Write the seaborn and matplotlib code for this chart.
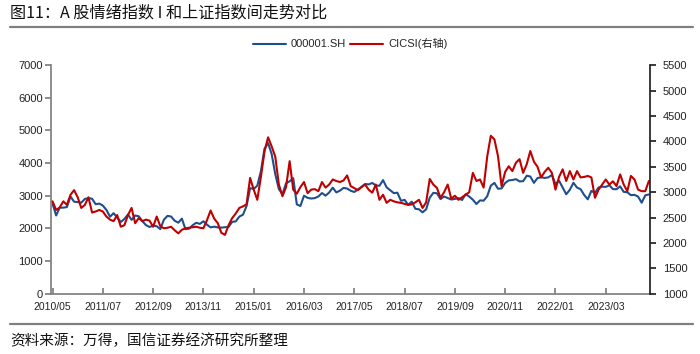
import numpy as np
import pandas as pd
import seaborn as sns
import matplotlib.pyplot as plt
from matplotlib.lines import Line2D

# 月度数据：2010/05 - 2024/03
months = pd.date_range("2010-05-01", periods=167, freq="MS")

# 上证指数（左轴）
sh_index = [
    2760, 2398, 2638, 2638, 2656, 2979, 2820, 2808,
    2790, 2905, 2928, 2911, 2743, 2762, 2701, 2567, 2359, 2469, 2333, 2199,
    2292, 2428, 2263, 2397, 2373, 2225, 2103, 2047, 2086, 2069, 1980, 2269,
    2385, 2366, 2237, 2178, 2301, 1979, 1994, 2098, 2175, 2141, 2220, 2116,
    2033, 2056, 2033, 2026, 2039, 2048, 2202, 2217, 2364, 2420, 2683, 3235,
    3210, 3310, 3748, 4442, 4612, 4277, 3664, 3206, 3053, 3383, 3445, 3539,
    2738, 2688, 3004, 2938, 2917, 2930, 2979, 3085, 3005, 3100, 3250, 3104,
    3159, 3242, 3223, 3155, 3117, 3192, 3273, 3361, 3349, 3393, 3317, 3307,
    3481, 3259, 3169, 3082, 3095, 2847, 2876, 2725, 2821, 2603, 2588, 2494,
    2585, 2941, 3091, 3078, 2899, 2979, 2933, 2886, 2905, 2929, 2871, 3050,
    2977, 2880, 2750, 2860, 2852, 2985, 3310, 3396, 3218, 3225, 3392, 3473,
    3483, 3509, 3442, 3447, 3615, 3591, 3397, 3544, 3568, 3547, 3564, 3640,
    3361, 3462, 3252, 3047, 3186, 3399, 3253, 3202, 3024, 2893, 3151, 3089,
    3255, 3280, 3273, 3323, 3205, 3202, 3291, 3120, 3110, 3019, 3030, 2975,
    2789, 3015, 3041,
]

# CICSI 情绪指数（右轴）
cicsi = [
    2820, 2650, 2700, 2820, 2750, 2950, 3040, 2900, 2690, 2750,
    2900, 2600, 2620, 2650, 2620, 2520, 2460, 2430, 2550, 2320,
    2350, 2550, 2690, 2390, 2490, 2430, 2460, 2440, 2320, 2520,
    2330, 2290, 2300, 2320, 2250, 2190, 2260, 2290, 2300, 2310,
    2320, 2300, 2290, 2450, 2640, 2480, 2390, 2200, 2160, 2350,
    2490, 2580, 2690, 2720, 2760, 3280, 3050, 2850, 3300, 3800,
    4080, 3900, 3700, 3150, 2920, 3100, 3610, 3050, 2970, 3100,
    3200, 2980, 3050, 3060, 3020, 3200, 3090, 3150, 3250, 3220,
    3200, 3230, 3330, 3120, 3080, 3040, 3100, 3150, 3050, 2990,
    3150, 2850, 2950, 2790, 2850, 2820, 2800, 2790, 2770, 2750,
    2760, 2800, 2850, 2690, 2800, 3260, 3150, 3085, 2890, 3000,
    3150, 2870, 2930, 2850, 2900, 2950, 3000, 3380, 3220, 3250,
    3090, 3700, 4110, 4040, 3710, 3120, 3400, 3510, 3415, 3580,
    3650, 3380, 3550, 3810, 3600, 3500, 3290, 3400, 3480, 3380,
    3050, 3300, 3450, 3220, 3415, 3250, 3415, 3290, 3300, 3320,
    3290, 2890, 3050, 3150, 3250, 3150, 3215, 3120, 3350, 3150,
    3020, 3320, 3250, 3050, 3020, 3020, 3220,
]

tick_labels = ["2010/05", "2011/07", "2012/09", "2013/11", "2015/01", "2016/03",
               "2017/05", "2018/07", "2019/09", "2020/11", "2022/01", "2023/03"]

df = pd.DataFrame({"t": np.arange(len(months)), "sh": sh_index, "cicsi": cicsi})

sns.set_theme(style="white")
plt.rcParams["font.family"] = ["Liberation Sans", "Noto Sans CJK SC"]

fig = plt.figure(figsize=(7, 3.54), dpi=100)
ax = fig.add_axes([0.073, 0.17, 0.856, 0.646])
ax2 = ax.twinx()

blue = "#1F4E8C"
red = "#C00000"
sns.lineplot(data=df, x="t", y="sh", ax=ax, color=blue, lw=1.5, legend=False)
sns.lineplot(data=df, x="t", y="cicsi", ax=ax2, color=red, lw=1.5, legend=False)

# 坐标轴
ax.set_xlim(-0.4, 166.4)
ax.set_ylim(0, 7000)
ax.set_yticks(range(0, 7001, 1000))
ax2.set_ylim(1000, 5500)
ax2.set_yticks(range(1000, 5501, 500))
ax.set_xticks(np.arange(0, 167, 14))
ax.set_xticklabels(tick_labels)
for a in (ax, ax2):
    a.set_xlabel("")
    a.set_ylabel("")
    a.grid(False)

ax.spines["top"].set_visible(False)
ax.spines["right"].set_visible(False)
ax.spines["left"].set_color("#808080")
ax.spines["bottom"].set_color("#808080")
for s in ("top", "left", "bottom"):
    ax2.spines[s].set_visible(False)
ax2.spines["right"].set_color("#222222")

ax.tick_params(axis="y", direction="out", length=4, color="#808080",
               labelsize=8, pad=2, left=True, labelcolor="#222222")
ax.tick_params(axis="x", direction="in", length=4, color="#808080",
               labelsize=7.5, pad=6, bottom=True, labelcolor="#222222")
ax2.tick_params(axis="y", direction="out", length=4, color="#222222",
                labelsize=8, pad=5, right=True, labelcolor="#222222")

# 图例
handles = [Line2D([], [], color=blue, lw=1.5), Line2D([], [], color=red, lw=1.5)]
fig.legend(handles, ["000001.SH", "CICSI(右轴)"], loc="center",
           bbox_to_anchor=(0.5, 0.876), ncol=2, frameon=False,
           handlelength=3.0, handletextpad=0.4, columnspacing=0.4,
           prop={"size": 8})

# 标题与来源
cjk = ["Noto Sans CJK SC", "DejaVu Sans"]
fig.text(0.014, 0.962, "图11：A 股情绪指数 I 和上证指数间走势对比",
         fontsize=11.6, family=cjk, va="center", color="#111111")
fig.add_artist(Line2D([0.014, 0.99], [0.924, 0.924], color="#808080", lw=1.6,
                      transform=fig.transFigure))
fig.add_artist(Line2D([0.014, 0.99], [0.085, 0.085], color="#808080", lw=1.6,
                      transform=fig.transFigure))
fig.text(0.014, 0.037, "资料来源：万得，国信证券经济研究所整理",
         fontsize=10.5, family=cjk, va="center", color="#111111")

fig.savefig("out.png", dpi=100)
